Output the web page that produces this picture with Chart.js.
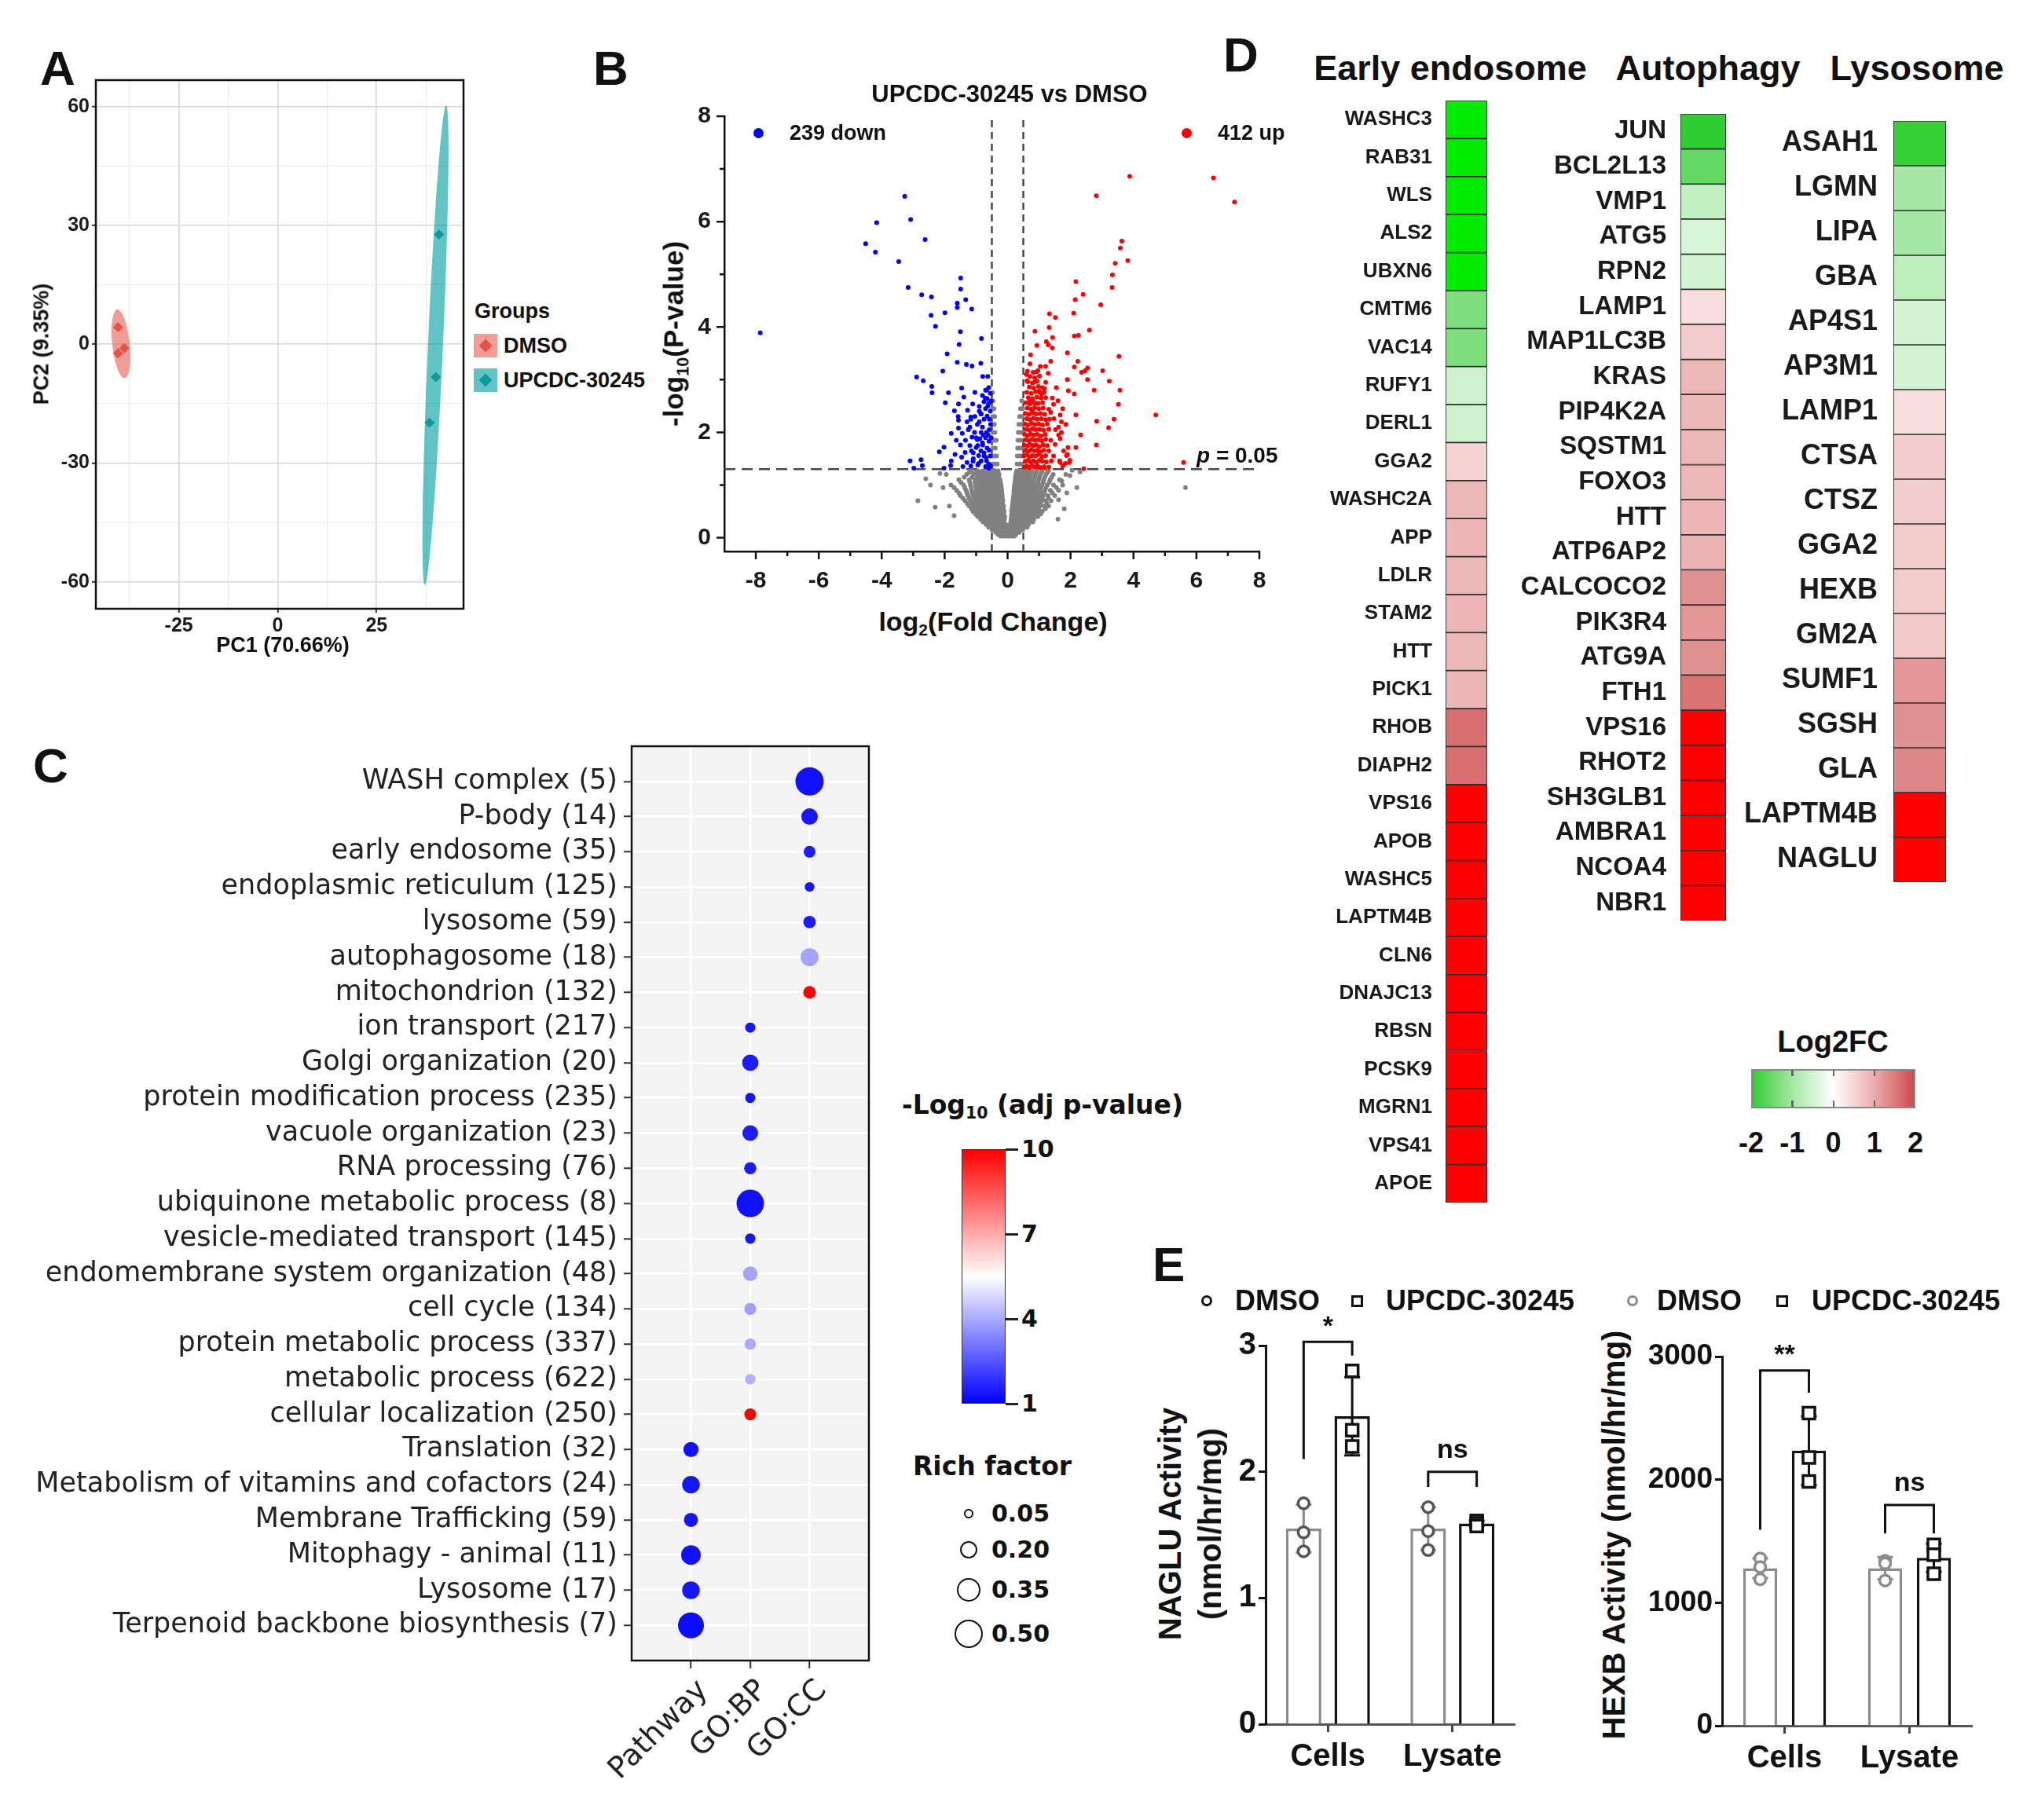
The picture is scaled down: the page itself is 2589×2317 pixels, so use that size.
<!DOCTYPE html>
<html lang="en">
<head>
<meta charset="UTF-8">
<title>UPCDC-30245 proteomics figure</title>
<script src="https://cdn.jsdelivr.net/npm/chart.js@4.4.1/dist/chart.umd.min.js"></script>
<style>
  html, body { margin: 0; padding: 0; background: #fff; }
  body { position: relative; width: 2589px; height: 2317px; overflow: hidden; font-family: 'Liberation Sans', Arial, sans-serif; }
  canvas { position: absolute; }
  .t { position: absolute; white-space: nowrap; line-height: 1; color: #111; font-weight: bold; }
  sub { font-size: 0.62em; vertical-align: -0.3em; line-height: 0; }
</style>
</head>
<body>
<canvas id="pca"></canvas>
<canvas id="volcano"></canvas>
<canvas id="enrich"></canvas>
<canvas id="hmEndo"></canvas>
<canvas id="hmAuto"></canvas>
<canvas id="hmLyso"></canvas>
<canvas id="naglu"></canvas>
<canvas id="hexb"></canvas>
<script>
// ---------- A: PCA ----------
const pcaGroups = ['DMSO', 'UPCDC-30245'];
const pcaDmsoPC1 = [-40.4, -40.4, -38.8];
const pcaDmsoPC2 = [4.3, -2.3, -1.0];
const pcaUpcPC1 = [40.8, 40.0, 38.4];
const pcaUpcPC2 = [27.7, -8.3, -19.8];
// confidence ellipses: ends of the long axis and half width (PC1 units)
const dmsoEllipse = { top: [-40.6, 8.8], bottom: [-38.7, -8.6], halfWidth: 2.2 };
const upcEllipse = { top: [42.6, 60.3], bottom: [37.2, -60.8], halfWidth: 1.9 };
const pcaXBreaks = [-37.5, -25, -12.5, 0, 12.5, 25, 37.5];
const pcaYBreaks = [-60, -45, -30, -15, 0, 15, 30, 45, 60];

// ---------- B: volcano ----------
const volXTicks = [-8, -6, -4, -2, 0, 2, 4, 6, 8];
const volYTicks = [0, 2, 4, 6, 8];
const fcCut = 0.5;
const pCut = 1.3;
const volDown = [
  -7.86,3.89, -3.27,6.48, -4.16,5.98, -3.08,6.04, -2.62,5.66, -4.51,5.58, -4.20,5.42, -3.46,5.24,
  -1.49,4.93, -1.49,4.72, -3.16,4.75, -2.73,4.61, -2.42,4.57, -1.33,4.52, -1.60,4.45, -1.60,4.37,
  -1.14,4.34, -2.43,4.22, -1.99,4.27, -2.29,4.01, -1.50,3.91, -0.83,3.78, -1.54,3.67, -1.92,3.49,
  -1.60,3.33, -1.31,3.29, -1.13,3.26, -0.85,3.31, -2.06,3.16, -2.89,3.05, -2.68,2.98, -0.79,3.06,
  -0.63,3.06, -2.41,2.87, -2.40,2.75, -1.46,2.84, -1.88,2.75, -1.39,2.67, -1.98,2.56, -1.56,2.54,
  -1.69,2.41, -1.27,2.42, -1.11,2.54, -1.04,2.76, -1.56,2.23, -1.17,2.25,
  -0.60,2.85, -0.70,2.80, -0.55,2.74, -0.80,2.70, -0.65,2.64, -0.75,2.58, -0.60,2.55, -0.90,2.49,
  -0.70,2.45, -0.55,2.40, -0.85,2.35, -0.65,2.31, -1.57,2.30, -1.29,2.20, -1.17,2.29, -1.79,1.98,
  -1.56,2.08, -1.44,1.98, -1.25,2.05, -1.63,1.85, -1.50,1.76, -1.34,1.85, -1.13,1.91, -2.17,1.63,
  -2.02,1.72, -1.79,1.46, -1.67,1.58, -1.46,1.53, -1.29,1.43, -1.09,1.61, -1.00,1.71, -3.10,1.46,
  -2.75,1.48, -2.71,1.37, -2.98,1.32, -2.02,1.32, -1.81,1.37, -1.42,1.35, -1.17,1.36, -0.92,1.41,
  -1.04,2.30, -0.84,2.35, -0.96,2.15, -0.84,2.00, -0.96,1.86, -0.79,1.76, -0.92,1.56, -0.75,1.61,
  -0.67,1.46, -0.59,1.83, -0.54,2.15, -0.63,2.50, -0.71,2.65, -0.67,2.80, -0.54,1.36, -0.67,2.00,
  -0.75,2.25, -0.59,1.66, -0.84,1.46, -1.09,1.50, -0.62,1.95, -0.70,1.90, -0.80,2.10, -0.90,2.20,
  -0.58,2.05, -0.65,1.70, -0.75,1.55, -0.60,1.40, -0.85,1.65, -0.95,1.75, -1.00,1.90, -0.90,2.40,
  -1.05,2.00, -1.10,1.45, -0.55,1.55, -0.70,1.35, -0.80,1.80, -1.20,1.75, -1.35,1.62, -1.20,2.10,
  -0.52,1.90, -0.52,2.60, -0.58,2.25, -0.78,1.95, -0.88,1.88, -0.68,1.52, -0.60,1.32, -0.95,1.38,
  -1.15,1.65
];
const volUp = [
  3.88,6.86, 2.82,6.49, 6.54,6.83, 7.21,6.37, 3.63,5.63, 3.58,5.50, 3.82,5.26, 3.42,5.21,
  3.33,4.99, 3.32,4.75, 2.17,4.86, 2.40,4.62, 2.15,4.52, 2.96,4.42, 1.33,4.25, 1.52,4.18,
  2.10,4.26, 0.87,3.92, 1.32,3.99, 2.60,3.94, 2.12,3.83, 2.25,3.84, 0.93,3.65, 1.23,3.72,
  1.29,3.66, 1.43,3.80, 1.42,3.60, 1.90,3.51, 3.54,3.44, 0.73,3.47, 1.37,3.35, 2.23,3.35,
  2.12,3.24, 2.54,3.22, 2.46,3.17, 2.35,3.14, 3.02,3.17, 0.71,3.30, 0.92,3.15, 1.04,3.25,
  1.21,3.25, 1.29,3.12, 1.90,3.00, 2.54,3.00, 3.23,2.97, 0.60,3.10, 0.62,2.98, 0.87,2.96,
  1.21,2.95, 1.17,2.83, 1.00,2.78, 1.08,2.73, 2.75,2.80, 3.57,2.80, 1.93,2.79, 2.12,2.73,
  3.52,2.53, 1.42,2.65, 1.46,2.53, 0.71,2.60, 0.87,2.55, 0.79,2.43, 4.71,2.33, 3.38,2.25,
  2.83,2.21, 3.21,2.09, 2.17,2.33, 1.67,2.33, 1.71,2.20, 1.62,2.10, 1.37,2.38, 1.33,2.25,
  1.71,2.00, 1.67,1.88, 2.32,1.95, 2.82,1.76, 2.17,1.71, 1.92,1.71, 1.87,1.56, 1.96,1.43,
  1.67,1.43, 1.83,1.41, 2.42,1.31, 5.59,1.43, 1.65,1.46, 1.75,1.36, 1.98,1.47, 1.90,1.58,
  1.60,2.60, 1.55,2.85, 1.75,2.45, 1.85,2.15, 1.78,1.65, 1.62,1.95,
  0.53,1.34, 0.61,1.36, 0.69,1.33, 0.77,1.37, 0.86,1.34, 0.95,1.36, 1.05,1.33, 1.16,1.35, 1.31,1.34,
  0.56,1.45, 0.64,1.47, 0.73,1.44, 0.82,1.46, 0.91,1.43, 1.01,1.47, 1.11,1.45, 1.23,1.44, 1.39,1.46,
  0.52,1.55, 0.60,1.57, 0.70,1.54, 0.79,1.56, 0.89,1.55, 0.98,1.58, 1.09,1.54, 1.21,1.56, 1.46,1.55,
  0.57,1.66, 0.66,1.64, 0.75,1.67, 0.85,1.65, 0.94,1.66, 1.04,1.63, 1.15,1.66, 1.31,1.65,
  0.53,1.76, 0.63,1.74, 0.72,1.77, 0.81,1.75, 0.91,1.76, 1.01,1.73, 1.13,1.76, 1.26,1.75, 1.51,1.77,
  0.58,1.86, 0.67,1.84, 0.77,1.87, 0.87,1.85, 0.97,1.86, 1.08,1.84, 1.21,1.87, 1.37,1.85,
  0.54,1.96, 0.64,1.94, 0.73,1.97, 0.83,1.95, 0.94,1.96, 1.06,1.93, 1.19,1.96,
  0.59,2.06, 0.69,2.04, 0.79,2.07, 0.89,2.05, 1.01,2.06, 1.14,2.04, 1.31,2.06, 1.52,2.05,
  0.55,2.16, 0.65,2.14, 0.76,2.17, 0.87,2.15, 0.99,2.16, 1.11,2.14, 1.26,2.16,
  0.61,2.26, 0.71,2.24, 0.82,2.27, 0.94,2.25, 1.07,2.26, 1.21,2.24, 1.47,2.26,
  0.56,2.36, 0.68,2.34, 0.79,2.37, 0.91,2.35, 1.04,2.36, 1.18,2.34,
  0.63,2.46, 0.74,2.44, 0.86,2.47, 0.99,2.45, 1.13,2.46, 1.31,2.44,
  0.58,2.56, 0.71,2.54, 0.84,2.57, 0.97,2.55, 1.11,2.56,
  0.66,2.66, 0.79,2.64, 0.93,2.67, 1.06,2.65, 1.21,2.66,
  0.61,2.76, 0.75,2.74, 0.89,2.77, 1.03,2.75, 1.16,2.76,
  0.69,2.86, 0.83,2.84, 0.98,2.87, 1.11,2.85,
  0.64,2.96, 0.79,2.94, 0.94,2.97, 0.71,3.06, 0.86,3.04, 1.01,3.07, 0.63,3.16, 0.81,3.14, 0.96,3.17
];
// not significant proteins, read row by row: [-log10 p, [log2 FC ...]]
const volNsRows = [
  [0.03, [-0.22,-0.15,-0.08,0,0.07,0.14,0.21]],
  [0.06, [-0.30,-0.18,-0.11,-0.03,0.03,0.09,0.17,0.26]],
  [0.10, [-0.38,-0.30,-0.22,-0.14,-0.06,0.04,0.12,0.20,0.28,0.37]],
  [0.15, [-0.49,-0.40,-0.31,-0.22,-0.14,-0.07,0.06,0.14,0.22,0.30,0.39,0.48]],
  [0.20, [-0.60,-0.50,-0.41,-0.32,-0.23,-0.14,-0.06,0.07,0.15,0.24,0.33,0.42,0.52,0.62]],
  [0.25, [-0.68,-0.58,-0.48,-0.39,-0.30,-0.21,-0.13,-0.06,0.08,0.17,0.26,0.35,0.45,0.55,0.66]],
  [0.30, [-0.78,-0.68,-0.58,-0.48,-0.39,-0.30,-0.21,-0.12,0.10,0.19,0.28,0.38,0.48,0.58,0.69,0.80]],
  [0.35, [-0.86,-0.75,-0.64,-0.54,-0.45,-0.36,-0.27,-0.18,-0.10,0.11,0.20,0.30,0.39,0.49,0.60,0.71,0.83]],
  [0.40, [-0.95,-0.84,-0.73,-0.63,-0.53,-0.43,-0.34,-0.25,-0.16,-0.09,0.12,0.21,0.31,0.41,0.51,0.62,0.72,0.84,0.96]],
  [0.45, [-1.02,-0.90,-0.79,-0.68,-0.58,-0.48,-0.39,-0.30,-0.21,-0.13,0.13,0.22,0.31,0.41,0.51,0.61,0.72,0.83,0.95,1.05]],
  [0.50, [-1.10,-0.98,-0.87,-0.76,-0.66,-0.56,-0.46,-0.37,-0.27,-0.18,-0.11,0.13,0.22,0.32,0.42,0.52,0.63,0.74,0.85,0.97,1.10]],
  [0.55, [-1.15,-1.03,-0.92,-0.81,-0.70,-0.60,-0.50,-0.41,-0.31,-0.22,-0.14,0.14,0.23,0.33,0.43,0.53,0.64,0.75,0.87,0.99,1.20]],
  [0.60, [-1.22,-1.08,-0.96,-0.84,-0.73,-0.62,-0.52,-0.42,-0.32,-0.22,-0.13,0.15,0.25,0.35,0.45,0.56,0.67,0.78,0.90,1.02,1.16,1.30]],
  [0.65, [-1.28,-1.12,-0.99,-0.87,-0.76,-0.65,-0.55,-0.45,-0.35,-0.25,-0.16,0.16,0.26,0.36,0.46,0.57,0.68,0.80,0.92,1.05,1.25]],
  [0.70, [-1.35,-1.18,-1.03,-0.90,-0.78,-0.67,-0.56,-0.45,-0.35,-0.25,-0.15,0.17,0.27,0.37,0.48,0.59,0.70,0.82,0.94,1.07,1.21,1.38]],
  [0.75, [-1.42,-1.22,-1.06,-0.93,-0.81,-0.69,-0.58,-0.47,-0.37,-0.27,-0.17,0.18,0.28,0.39,0.50,0.61,0.72,0.84,0.97,1.10,1.30]],
  [0.80, [-1.50,-1.26,-1.10,-0.96,-0.83,-0.71,-0.59,-0.48,-0.37,-0.27,-0.17,0.19,0.29,0.40,0.51,0.62,0.74,0.86,0.99,1.13,1.28,1.50]],
  [0.85, [-1.55,-1.29,-1.12,-0.98,-0.85,-0.72,-0.60,-0.49,-0.38,-0.28,-0.18,0.20,0.30,0.41,0.52,0.64,0.76,0.88,1.02,1.16,1.42]],
  [0.90, [-1.62,-1.32,-1.14,-0.99,-0.86,-0.74,-0.62,-0.50,-0.39,-0.28,-0.19,0.20,0.31,0.42,0.53,0.65,0.77,0.90,1.04,1.19,1.36,1.62]],
  [0.95, [-1.70,-1.36,-1.16,-1.00,-0.87,-0.74,-0.62,-0.51,-0.40,-0.29,-0.20,0.21,0.31,0.42,0.54,0.66,0.79,0.92,1.06,1.22,1.55]],
  [1.00, [-1.80,-1.40,-1.18,-1.02,-0.88,-0.75,-0.63,-0.52,-0.41,-0.30,-0.21,0.22,0.32,0.43,0.55,0.67,0.80,0.94,1.09,1.26,1.46,1.75]],
  [1.05, [-1.48,-1.20,-1.03,-0.89,-0.76,-0.64,-0.53,-0.42,-0.32,-0.23,0.23,0.33,0.44,0.56,0.69,0.82,0.97,1.13,1.32]],
  [1.10, [-1.55,-1.22,-1.04,-0.90,-0.77,-0.65,-0.54,-0.43,-0.33,-0.24,0.24,0.34,0.45,0.57,0.70,0.84,0.99,1.15,1.35,1.65]],
  [1.15, [-1.38,-1.13,-0.97,-0.83,-0.71,-0.59,-0.48,-0.38,-0.29,0.25,0.35,0.46,0.58,0.71,0.86,1.01,1.18,1.40]],
  [1.20, [-1.95,-1.30,-1.08,-0.92,-0.79,-0.67,-0.56,-0.45,-0.35,-0.27,0.26,0.36,0.47,0.60,0.73,0.88,1.04,1.22,1.45,1.85]],
  [1.24, [-1.22,-1.01,-0.86,-0.73,-0.61,-0.50,-0.40,-0.31,0.28,0.37,0.48,0.61,0.74,0.90,1.07,1.26]],
  [1.27, [-1.15,-0.95,-0.80,-0.68,-0.57,-0.46,-0.37,-0.30,0.29,0.38,0.49,0.62,0.76,0.92,1.10,1.30]],
  [1.40, [-0.47,-0.40,-0.33,0.30,0.38,0.46]],
  [1.55, [-0.48,-0.41,-0.35,0.31,0.39,0.47]],
  [1.70, [-0.46,-0.39,0.32,0.40,0.48]],
  [1.85, [-0.48,-0.42,-0.36,0.33,0.41]],
  [2.00, [-0.47,-0.40,0.34,0.42,0.49]],
  [2.15, [-0.48,-0.42,0.36,0.44]],
  [2.30, [-0.46,-0.41,0.38,0.46]],
  [2.45, [-0.48,-0.43,0.41,0.48]],
  [2.60, [-0.47,0.45]],
  [2.75, [-0.48]]
];
const volNsSparse = [
  -2.85,0.70, -2.30,0.58, 5.65,0.95, -2.05,0.95, -2.15,1.22, 1.80,0.55, 1.88,0.85, 1.72,1.08,
  1.98,1.18, -2.45,1.00, 2.30,1.25, -1.70,0.42, 1.60,0.35, 2.05,1.28, -1.85,0.60, 1.62,0.72,
  -2.60,1.12, 2.20,0.95
];

// ---------- C: enrichment ----------
const enrichSources = ['Pathway', 'GO:BP', 'GO:CC'];
const enrichTerms = [
  'WASH complex (5)', 'P-body (14)', 'early endosome (35)', 'endoplasmic reticulum (125)',
  'lysosome (59)', 'autophagosome (18)', 'mitochondrion (132)', 'ion transport (217)',
  'Golgi organization (20)', 'protein modification process (235)', 'vacuole organization (23)',
  'RNA processing (76)', 'ubiquinone metabolic process (8)', 'vesicle-mediated transport (145)',
  'endomembrane system organization (48)', 'cell cycle (134)', 'protein metabolic process (337)',
  'metabolic process (622)', 'cellular localization (250)', 'Translation (32)',
  'Metabolism of vitamins and cofactors (24)', 'Membrane Trafficking (59)', 'Mitophagy - animal (11)',
  'Lysosome (17)', 'Terpenoid backbone biosynthesis (7)'
];
const enrichSource = [
  'GO:CC','GO:CC','GO:CC','GO:CC','GO:CC','GO:CC','GO:CC',
  'GO:BP','GO:BP','GO:BP','GO:BP','GO:BP','GO:BP','GO:BP','GO:BP','GO:BP','GO:BP','GO:BP','GO:BP',
  'Pathway','Pathway','Pathway','Pathway','Pathway','Pathway'
];
const enrichPadj = [1.3,1.4,1.5,1.4,1.5,3.9,10, 1.4,1.5,1.4,1.5,1.5,1.3,1.4,3.9,3.8,4.0,4.1,10, 1.3,1.4,1.4,1.3,1.4,1.2];
const enrichRich = [0.50,0.17,0.087,0.059,0.098,0.20,0.10, 0.065,0.166,0.065,0.154,0.094,0.47,0.067,0.133,0.089,0.080,0.069,0.089, 0.142,0.193,0.125,0.24,0.193,0.42];
const padjTicks = [1, 4, 7, 10];
const richBreaks = [0.05, 0.20, 0.35, 0.50];

// ---------- D: heatmaps ----------
const endoGenes = ['WASHC3','RAB31','WLS','ALS2','UBXN6','CMTM6','VAC14','RUFY1','DERL1','GGA2','WASHC2A','APP','LDLR','STAM2','HTT','PICK1','RHOB','DIAPH2','VPS16','APOB','WASHC5','LAPTM4B','CLN6','DNAJC13','RBSN','PCSK9','MGRN1','VPS41','APOE'];
const endoFC = [-3,-3,-3,-3,-3,-1.35,-1.35,-0.56,-0.56,0.55,0.9,0.92,0.9,0.92,0.9,0.92,1.65,1.65,3,3,3,3,3,3,3,3,3,3,3];
const autoGenes = ['JUN','BCL2L13','VMP1','ATG5','RPN2','LAMP1','MAP1LC3B','KRAS','PIP4K2A','SQSTM1','FOXO3','HTT','ATP6AP2','CALCOCO2','PIK3R4','ATG9A','FTH1','VPS16','RHOT2','SH3GLB1','AMBRA1','NCOA4','NBR1'];
const autoFC = [-2,-1.57,-0.67,-0.45,-0.5,0.42,0.62,0.9,0.9,0.9,0.9,0.92,0.95,1.3,1.25,1.3,1.6,3,3,3,3,3,3];
const lysoGenes = ['ASAH1','LGMN','LIPA','GBA','AP4S1','AP3M1','LAMP1','CTSA','CTSZ','GGA2','HEXB','GM2A','SUMF1','SGSH','GLA','LAPTM4B','NAGLU'];
const lysoFC = [-1.95,-1.0,-1.0,-0.72,-0.5,-0.5,0.42,0.62,0.62,0.65,0.65,0.7,1.25,1.3,1.4,3,3];
const fcTicks = [-2, -1, 0, 1, 2];

// ---------- E: enzyme activity ----------
const eGroups = ['Cells', 'Lysate'];
const nagluDmso = [1.55, 1.55];
const nagluDmsoSd = [0.19, 0.17];
const nagluDmsoPts = [[1.75, 1.52, 1.37], [1.72, 1.53, 1.38]];
const nagluUpc = [2.44, 1.59];
const nagluUpcSd = [0.31, 0.02];
const nagluUpcPts = [[2.80, 2.33, 2.20], [1.61, 1.59, 1.57]];
const nagluSig = [{ group: 0, top: 3.03, left: 2.10, right: 2.92, label: '*' }, { group: 1, top: 2.0, left: 1.88, right: 1.88, label: 'ns' }];
const hexbDmso = [1280, 1280];
const hexbDmsoSd = [80, 90];
const hexbDmsoPts = [[1360, 1290, 1190], [1340, 1320, 1180]];
const hexbUpc = [2235, 1365];
const hexbUpcSd = [280, 115];
const hexbUpcPts = [[2540, 2180, 1985], [1470, 1390, 1235]];
const hexbSig = [{ group: 0, top: 2886, left: 1592, right: 2707, label: '**' }, { group: 1, top: 1794, left: 1562, right: 1562, label: 'ns' }];

// ================= helpers =================
Chart.defaults.font.family = "'Liberation Sans', Arial, sans-serif";
Chart.defaults.color = '#111';
Chart.defaults.animation = false;
Chart.defaults.responsive = false;
Chart.defaults.plugins.legend.display = false;
Chart.defaults.plugins.tooltip.enabled = false;

function place(id, left, top, width, height) {
  const c = document.getElementById(id);
  c.width = width; c.height = height;
  c.style.left = left + 'px'; c.style.top = top + 'px';
  return c;
}
// fixed axis sizes, and no extra room for the end labels
const fixW = w => s => { s.width = w; s.paddingTop = 0; s.paddingBottom = 0; };
const fixH = h => s => { s.height = h; s.paddingLeft = 0; s.paddingRight = 0; };
function pairs(flat) {
  const out = [];
  for (let i = 0; i < flat.length; i += 2) out.push({ x: flat[i], y: flat[i + 1] });
  return out;
}
function zip(xs, ys) { return xs.map((x, i) => ({ x, y: ys[i] })); }
function rgb(c) { return `rgb(${c[0]},${c[1]},${c[2]})`; }
function ramp(stops, v) {
  if (v <= stops[0][0]) return rgb(stops[0][1]);
  for (let i = 1; i < stops.length; i++) {
    if (v <= stops[i][0]) {
      const [v0, c0] = stops[i - 1], [v1, c1] = stops[i];
      const t = (v - v0) / (v1 - v0);
      return rgb(c0.map((c, k) => Math.round(c + (c1[k] - c) * t)));
    }
  }
  return rgb(stops[stops.length - 1][1]);
}
const fcStops = [[-3, [0, 235, 0]], [-2, [50, 205, 50]], [-1, [165, 232, 165]], [0, [255, 255, 255]], [1, [235, 175, 175]], [2, [205, 75, 80]], [3, [255, 0, 0]]];
const padjStops = [[1, [0, 0, 255]], [5.5, [255, 255, 255]], [10, [255, 0, 0]]];
const fcColor = v => ramp(fcStops, v);
const padjColor = v => ramp(padjStops, v);
const richRadius = v => 25.5 * Math.sqrt(v);

function txt(html, x, y, size, o = {}) {
  const d = document.createElement('div');
  d.className = 't';
  d.innerHTML = html;
  const ax = o.align === 'left' ? '0%' : o.align === 'right' ? '-100%' : '-50%';
  d.style.left = x + 'px';
  d.style.top = y + 'px';
  d.style.fontSize = size + 'px';
  if (o.family) d.style.fontFamily = o.family;
  if (o.weight) d.style.fontWeight = o.weight;
  if (o.color) d.style.color = o.color;
  d.style.transform = `translate(${ax}, -50%)` + (o.rot ? ` rotate(${o.rot}deg)` : '');
  document.body.appendChild(d);
  return d;
}
function box(x, y, w, h, css) {
  const d = document.createElement('div');
  d.style.cssText = `position:absolute;left:${x}px;top:${y}px;width:${w}px;height:${h}px;box-sizing:border-box;${css}`;
  document.body.appendChild(d);
  return d;
}

// panel background / border
Chart.register({
  id: 'frame',
  defaults: { fill: null, border: null, width: 2 },
  beforeDraw(chart, args, o) {
    if (!o.fill) return;
    const a = chart.chartArea, c = chart.ctx;
    c.save(); c.fillStyle = o.fill; c.fillRect(a.left, a.top, a.width, a.height); c.restore();
  },
  afterDraw(chart, args, o) {
    if (!o.border) return;
    const a = chart.chartArea, c = chart.ctx;
    c.save(); c.strokeStyle = o.border; c.lineWidth = o.width;
    c.strokeRect(a.left, a.top, a.width, a.height); c.restore();
  }
});

// ================= A: PCA =================
const ellipsePlugin = {
  id: 'pcaEllipses',
  beforeDatasetsDraw(chart) {
    const { x, y } = chart.scales, ctx = chart.ctx;
    [[dmsoEllipse, 'rgba(232,90,80,0.6)'], [upcEllipse, 'rgba(0,160,160,0.62)']].forEach(([e, color]) => {
      const x1 = x.getPixelForValue(e.top[0]), y1 = y.getPixelForValue(e.top[1]);
      const x2 = x.getPixelForValue(e.bottom[0]), y2 = y.getPixelForValue(e.bottom[1]);
      const major = Math.hypot(x2 - x1, y2 - y1) / 2;
      const minor = Math.abs(x.getPixelForValue(e.halfWidth) - x.getPixelForValue(0));
      ctx.save();
      ctx.fillStyle = color;
      ctx.beginPath();
      ctx.ellipse((x1 + x2) / 2, (y1 + y2) / 2, major, minor, Math.atan2(y2 - y1, x2 - x1), 0, Math.PI * 2);
      ctx.fill();
      ctx.restore();
    });
  }
};
const pcaGrid = step => ({
  color: c => (c.tick && c.tick.value % step === 0) ? '#d8d8d8' : '#ebebeb',
  lineWidth: c => (c.tick && c.tick.value % step === 0) ? 1.6 : 1.1,
  tickColor: c => (c.tick && c.tick.value % step === 0) ? '#333' : 'rgba(0,0,0,0)',
  tickLength: 5, tickWidth: 2
});
new Chart(place('pca', 22, 92, 578, 728), {
  type: 'scatter',
  data: {
    datasets: [
      { label: pcaGroups[0], data: zip(pcaDmsoPC1, pcaDmsoPC2), pointStyle: 'rectRot', pointRadius: 6.5, backgroundColor: '#e8504a', borderWidth: 0 },
      { label: pcaGroups[1], data: zip(pcaUpcPC1, pcaUpcPC2), pointStyle: 'rectRot', pointRadius: 6.5, backgroundColor: '#0e9a9a', borderWidth: 0 }
    ]
  },
  options: {
    devicePixelRatio: 1,
    layout: { padding: { top: 10, right: 10, left: 0, bottom: 0 } },
    scales: {
      x: {
        type: 'linear', min: -46, max: 47,
        afterBuildTicks: s => { s.ticks = pcaXBreaks.map(v => ({ value: v })); },
        afterFit: fixH(45),
        border: { display: false }, grid: pcaGrid(25),
        ticks: { callback: v => v % 25 === 0 ? String(v) : '', font: { size: 25, weight: 'bold' }, color: '#1a1a1a', padding: 2, maxRotation: 0, autoSkip: false }
      },
      y: {
        type: 'linear', min: -66.8, max: 66.7,
        afterBuildTicks: s => { s.ticks = pcaYBreaks.map(v => ({ value: v })); },
        afterFit: fixW(100),
        border: { display: false }, grid: pcaGrid(30),
        ticks: { callback: v => v % 30 === 0 ? String(v) : '', font: { size: 25, weight: 'bold' }, color: '#1a1a1a', padding: 3, autoSkip: false }
      }
    },
    plugins: { frame: { border: '#111', width: 2.5 } }
  },
  plugins: [ellipsePlugin]
});

// ================= B: volcano =================
const volYMin = -0.26, volYMax = 8, volXMin = -9, volXMax = 8;
const volTicksPlugin = {
  id: 'volTicks',
  afterDraw(chart) {
    const { x, y } = chart.scales, ctx = chart.ctx, a = chart.chartArea;
    ctx.save(); ctx.strokeStyle = '#111'; ctx.lineWidth = 2.5;
    ctx.beginPath();
    for (let v = volXMin + 1; v <= volXMax; v++) {
      const px = x.getPixelForValue(v), len = v % 2 === 0 ? 10 : 6;
      ctx.moveTo(px, a.bottom); ctx.lineTo(px, a.bottom + len);
    }
    for (let v = 0; v <= volYMax; v++) {
      const py = y.getPixelForValue(v), len = v % 2 === 0 ? 10 : 6;
      ctx.moveTo(a.left, py); ctx.lineTo(a.left - len, py);
    }
    ctx.stroke(); ctx.restore();
  }
};
const dashed = (data, dash) => ({ data, showLine: true, pointRadius: 0, borderColor: '#4a4a4a', borderWidth: 2.5, borderDash: dash, fill: false });
new Chart(place('volcano', 842, 136, 776, 626), {
  type: 'scatter',
  data: {
    datasets: [
      { label: 'up', data: pairs(volUp), pointRadius: 3, backgroundColor: '#ff0000', borderWidth: 0 },
      { label: 'down', data: pairs(volDown), pointRadius: 3, backgroundColor: '#0000ff', borderWidth: 0 },
      { label: 'ns', data: volNsRows.flatMap(([yv, xs]) => xs.map(xv => ({ x: xv, y: yv }))).concat(pairs(volNsSparse)), pointRadius: 3, backgroundColor: '#808080', borderWidth: 0 },
      dashed([{ x: -fcCut, y: volYMin }, { x: -fcCut, y: volYMax }], [9, 6]),
      dashed([{ x: fcCut, y: volYMin }, { x: fcCut, y: volYMax }], [9, 6]),
      dashed([{ x: volXMin, y: pCut }, { x: volXMax, y: pCut }], [14, 8])
    ]
  },
  options: {
    devicePixelRatio: 1,
    layout: { padding: { top: 12, right: 15, left: 0, bottom: 0 } },
    scales: {
      x: {
        type: 'linear', min: volXMin, max: volXMax,
        afterBuildTicks: s => { s.ticks = volXTicks.map(v => ({ value: v })); },
        afterFit: fixH(60),
        grid: { display: false, drawTicks: false },
        border: { color: '#111', width: 2.5 },
        ticks: { font: { size: 30, weight: 'bold' }, color: '#1a1a1a', padding: 20, maxRotation: 0, autoSkip: false }
      },
      y: {
        type: 'linear', min: volYMin, max: volYMax,
        afterBuildTicks: s => { s.ticks = volYTicks.map(v => ({ value: v })); },
        afterFit: fixW(80),
        grid: { display: false, drawTicks: false },
        border: { color: '#111', width: 2.5 },
        ticks: { font: { size: 30, weight: 'bold' }, color: '#1a1a1a', padding: 17, autoSkip: false }
      }
    }
  },
  plugins: [volTicksPlugin]
});

// ================= C: enrichment bubbles =================
const whiteGrid = { color: '#ffffff', lineWidth: 2.5, tickColor: '#333', tickLength: 10, tickWidth: 2 };
new Chart(place('enrich', 30, 932, 1094, 1372), {
  type: 'bubble',
  data: {
    datasets: [{
      data: enrichTerms.map((t, i) => ({ x: enrichSources.indexOf(enrichSource[i]) + 1, y: i + 1, r: richRadius(enrichRich[i]) })),
      backgroundColor: enrichPadj.map(padjColor),
      borderWidth: 0
    }]
  },
  options: {
    devicePixelRatio: 1,
    layout: { padding: { top: 10, right: 10, left: 0, bottom: 0 } },
    scales: {
      x: {
        type: 'linear', min: 0, max: enrichSources.length + 1,
        afterBuildTicks: s => { s.ticks = enrichSources.map((_, i) => ({ value: i + 1 })); },
        afterFit: fixH(190),
        grid: whiteGrid, border: { display: false },
        ticks: { callback: v => enrichSources[v - 1], font: { family: "'DejaVu Sans'", size: 38 }, color: '#222', padding: 6, labelOffset: 16, minRotation: 45, maxRotation: 45, autoSkip: false }
      },
      y: {
        type: 'linear', min: 0, max: enrichTerms.length + 1, reverse: true,
        afterBuildTicks: s => { s.ticks = enrichTerms.map((_, i) => ({ value: i + 1 })); },
        afterFit: fixW(774),
        grid: whiteGrid, border: { display: false },
        ticks: { callback: v => enrichTerms[v - 1], font: { family: "'DejaVu Sans'", size: 35 }, color: '#222', padding: 8, autoSkip: false }
      }
    },
    plugins: { frame: { fill: '#f3f3f3', border: '#111', width: 2.5 } }
  }
});

// ================= D: heatmaps =================
function heatmap(id, left, top, width, height, genes, fc, fontSize, pad, axisWidth) {
  new Chart(place(id, left, top, width, height), {
    type: 'bar',
    data: {
      labels: genes,
      datasets: [{
        data: genes.map(() => [0, 1]),
        backgroundColor: fc.map(fcColor),
        borderColor: '#2e2e2e', borderWidth: 1.2, borderSkipped: false,
        barPercentage: 1, categoryPercentage: 1
      }]
    },
    options: {
      devicePixelRatio: 1,
      indexAxis: 'y',
      layout: { padding: { top: 2, right: 2, bottom: 2, left: 0 } },
      scales: {
        x: { display: false, min: 0, max: 1 },
        y: {
          grid: { display: false, drawTicks: false }, border: { display: false },
          ticks: { font: { size: fontSize, weight: 'bold' }, color: '#1a1a1a', padding: pad, autoSkip: false },
          afterFit: fixW(axisWidth)
        }
      }
    }
  });
}
heatmap('hmEndo', 1610, 126, 285, 1407, endoGenes, endoFC, 26, 17, 230);
heatmap('hmAuto', 1839, 143, 360, 1031, autoGenes, autoFC, 33, 18, 300);
heatmap('hmLyso', 2080, 152, 399, 973, lysoGenes, lysoFC, 36, 20, 330);

// ================= E: activity bars =================
function activityPlugin(series, brackets) {
  return {
    id: 'activityExtras',
    afterDatasetsDraw(chart) {
      const ctx = chart.ctx, y = chart.scales.y;
      series.forEach((s, d) => {
        chart.getDatasetMeta(d).data.forEach((bar, i) => {
          const cx = bar.x;
          const top = y.getPixelForValue(s.mean[i] + s.sd[i]);
          const bot = y.getPixelForValue(s.mean[i] - s.sd[i]);
          ctx.save();
          ctx.strokeStyle = s.color; ctx.lineWidth = 3;
          ctx.beginPath();
          ctx.moveTo(cx, top); ctx.lineTo(cx, bot);
          ctx.moveTo(cx - 10, top); ctx.lineTo(cx + 10, top);
          ctx.moveTo(cx - 10, bot); ctx.lineTo(cx + 10, bot);
          ctx.stroke();
          ctx.lineWidth = 3.5; ctx.strokeStyle = s.pointColor; ctx.fillStyle = '#fff';
          s.pts[i].forEach(v => {
            const py = y.getPixelForValue(v);
            ctx.beginPath();
            if (s.shape === 'circle') ctx.arc(cx, py, 7, 0, Math.PI * 2);
            else ctx.rect(cx - 7.5, py - 7.5, 15, 15);
            ctx.fill(); ctx.stroke();
          });
          ctx.restore();
        });
      });
      brackets.forEach(b => {
        const xl = chart.getDatasetMeta(0).data[b.group].x;
        const xr = chart.getDatasetMeta(1).data[b.group].x;
        const yt = y.getPixelForValue(b.top);
        ctx.save();
        ctx.strokeStyle = '#111'; ctx.lineWidth = 3;
        ctx.beginPath();
        ctx.moveTo(xl, y.getPixelForValue(b.left)); ctx.lineTo(xl, yt);
        ctx.lineTo(xr, yt); ctx.lineTo(xr, y.getPixelForValue(b.right));
        ctx.stroke();
        ctx.fillStyle = '#111'; ctx.textAlign = 'center'; ctx.textBaseline = 'bottom';
        ctx.font = "bold 34px 'Liberation Sans', Arial, sans-serif";
        ctx.fillText(b.label, (xl + xr) / 2, yt - (b.label === 'ns' ? 10 : 2));
        ctx.restore();
      });
    }
  };
}
function activityChart(id, left, top, width, height, cfg) {
  new Chart(place(id, left, top, width, height), {
    type: 'bar',
    data: {
      labels: eGroups,
      datasets: [
        { data: cfg.dmso, backgroundColor: '#fff', borderColor: '#8c8c8c', borderWidth: 3.5, barPercentage: cfg.bp, categoryPercentage: cfg.cp },
        { data: cfg.upc, backgroundColor: '#fff', borderColor: '#111', borderWidth: 3.5, barPercentage: cfg.bp, categoryPercentage: cfg.cp }
      ]
    },
    options: {
      devicePixelRatio: 1,
      layout: { padding: { top: cfg.padTop, right: 10, left: 0, bottom: 0 } },
      scales: {
        x: {
          afterFit: fixH(70),
          grid: { drawOnChartArea: false, offset: false, tickLength: 10, tickWidth: 3, tickColor: '#444' },
          border: { color: '#555', width: 3 },
          ticks: { font: { size: 40, weight: 'bold' }, color: '#111', padding: 8 }
        },
        y: {
          min: 0, max: cfg.max,
          afterFit: fixW(cfg.axisWidth),
          grid: { drawOnChartArea: false, tickLength: 9, tickWidth: 3, tickColor: '#111' },
          border: { color: '#111', width: 3 },
          ticks: { stepSize: cfg.step, callback: v => String(v), font: { size: cfg.tickSize, weight: 'bold' }, color: '#111', padding: 3 }
        }
      }
    },
    plugins: [activityPlugin([
      { mean: cfg.dmso, sd: cfg.dmsoSd, pts: cfg.dmsoPts, color: '#8c8c8c', pointColor: cfg.dmsoPointColor, shape: 'circle' },
      { mean: cfg.upc, sd: cfg.upcSd, pts: cfg.upcPts, color: '#111', pointColor: '#111', shape: 'square' }
    ], cfg.sig)]
  });
}
activityChart('naglu', 1541, 1653, 397, 612, {
  dmso: nagluDmso, dmsoSd: nagluDmsoSd, dmsoPts: nagluDmsoPts,
  upc: nagluUpc, upcSd: nagluUpcSd, upcPts: nagluUpcPts, sig: nagluSig,
  max: 3, step: 1, axisWidth: 70, padTop: 60, tickSize: 40, bp: 0.73, cp: 0.78, dmsoPointColor: '#555'
});
activityChart('hexb', 2082, 1657, 438, 610, {
  dmso: hexbDmso, dmsoSd: hexbDmsoSd, dmsoPts: hexbDmsoPts,
  upc: hexbUpc, upcSd: hexbUpcSd, upcPts: hexbUpcPts, sig: hexbSig,
  max: 3000, step: 1000, axisWidth: 110, padTop: 70, tickSize: 37, bp: 0.70, cp: 0.78, dmsoPointColor: '#8c8c8c'
});

// ================= text, legends =================
// panel letters
txt('A', 51, 87, 62, { align: 'left' });
txt('B', 755, 87, 62, { align: 'left' });
txt('C', 42, 975, 62, { align: 'left' });
txt('D', 1557, 70, 62, { align: 'left' });
txt('E', 1467, 1610, 62, { align: 'left' });

// A
txt('PC1 (70.66%)', 360, 821, 27);
txt('PC2 (9.35%)', 53, 438, 27, { rot: -90 });
txt('Groups', 604, 396, 27, { align: 'left' });
[[pcaGroups[0], 440, 'rgba(232,90,80,0.6)', '#e8504a'], [pcaGroups[1], 484, 'rgba(0,160,160,0.62)', '#0e9a9a']].forEach(([name, cy, fill, dot]) => {
  box(603, cy - 15, 30, 30, `background:${fill}`);
  box(612, cy - 6, 12, 12, `background:${dot};transform:rotate(45deg)`);
  txt(name, 641, cy, 27, { align: 'left' });
});

// B
txt('UPCDC-30245 vs DMSO', 1285, 119, 31);
box(959, 163, 13, 13, 'border-radius:50%;background:#0000ff');
txt('239 down', 1005, 169, 27, { align: 'left' });
box(1504, 163, 13, 13, 'border-radius:50%;background:#ff0000');
txt('412 up', 1550, 169, 27, { align: 'left' });
txt('<i>p</i> = 0.05', 1523, 580, 28, { align: 'left' });
txt('log<sub>2</sub>(Fold Change)', 1264, 791, 34);
txt('-log<sub>10</sub>(P-value)', 857, 425, 35, { rot: -90 });

// C legends
const dj = "'DejaVu Sans', sans-serif";
txt('-Log<sub>10</sub> (adj p-value)', 1327, 1406, 33, { family: dj });
const cbTop = 1463, cbH = 324;
box(1224, cbTop, 56, cbH, 'border:1.5px solid #333;background:linear-gradient(to top,' +
  padjStops.map(([v, c]) => `${rgb(c)} ${((v - 1) / 9 * 100).toFixed(1)}%`).join(',') + ')');
padjTicks.forEach(v => {
  const py = cbTop + cbH - (v - 1) / 9 * cbH;
  box(1280, py - 1, 16, 2.5, 'background:#222');
  txt(String(v), 1300, py, 30, { align: 'left', family: dj });
});
txt('Rich factor', 1263, 1866, 33, { family: dj });
[1927, 1973, 2024, 2080].forEach((cy, i) => {
  const r = richRadius(richBreaks[i]);
  box(1233 - r, cy - r, 2 * r, 2 * r, 'border:2px solid #111;border-radius:50%');
  txt(richBreaks[i].toFixed(2), 1262, cy, 30, { align: 'left', family: dj });
});

// D
txt('Early endosome', 1846, 86, 45);
txt('Autophagy', 2174, 86, 45);
txt('Lysosome', 2440, 86, 45);
txt('Log2FC', 2333, 1326, 38);
const fcL = 2229, fcW = 209;
box(fcL, 1361, fcW, 50, 'border:2px solid #8a8a8a;background:linear-gradient(to right,' +
  fcStops.filter(([v]) => v >= -2 && v <= 2).map(([v, c]) => `${rgb(c)} ${((v + 2) / 4 * 100)}%`).join(',') + ')');
fcTicks.forEach(v => {
  const px = fcL + (v + 2) / 4 * fcW;
  if (v > -2 && v < 2) {
    box(px - 1, 1362, 2.5, 8, 'background:#666');
    box(px - 1, 1401, 2.5, 8, 'background:#666');
  }
  txt(String(v), px, 1455, 36);
});

// E
box(1529, 1649, 14, 14, 'border:3.5px solid #111;border-radius:50%');
txt('DMSO', 1572, 1656, 36, { align: 'left' });
box(1720, 1649, 15, 15, 'border:3.5px solid #111');
txt('UPCDC-30245', 1764, 1656, 36, { align: 'left' });
box(2071, 1649, 14, 14, 'border:3.5px solid #8c8c8c;border-radius:50%');
txt('DMSO', 2109, 1656, 36, { align: 'left' });
box(2261, 1649, 15, 15, 'border:3.5px solid #111');
txt('UPCDC-30245', 2306, 1656, 36, { align: 'left' });
txt('NAGLU Activity', 1489, 1940, 40, { rot: -90 });
txt('(nmol/hr/mg)', 1540, 1940, 40, { rot: -90 });
txt('HEXB Activity (nmol/hr/mg)', 2054, 1954, 40, { rot: -90 });
</script>
</body>
</html>
